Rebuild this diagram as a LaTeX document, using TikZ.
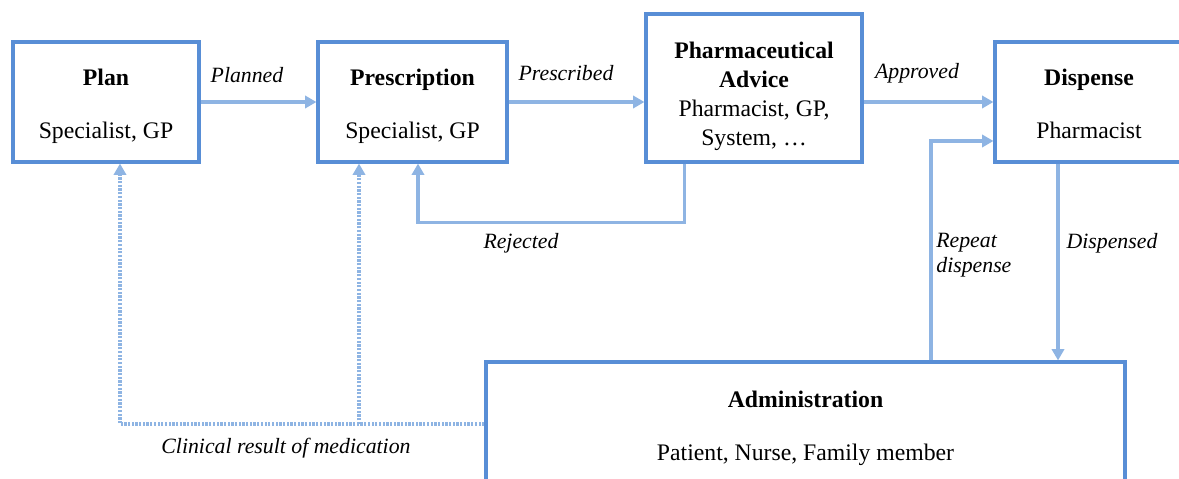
\documentclass[tikz,border=0pt]{standalone}
\usepackage{fontspec}
\setmainfont{Liberation Serif}
\usepackage{xcolor}
\usetikzlibrary{arrows.meta}
\definecolor{boxblue}{RGB}{88,142,214}
\definecolor{arrowblue}{RGB}{142,180,227}
\newcommand{\topstrut}{\rule{0pt}{15.4pt}}
\newcommand{\botstrut}{\rule[-4pt]{0pt}{4pt}}

\begin{document}
\begin{tikzpicture}[x=0.02cm,y=-0.02cm,
  box/.style={draw=boxblue,line width=1.8pt,rectangle,fill=white,inner sep=0pt,align=center,font=\fontsize{13.5}{16.5}\selectfont},
  flow/.style={draw=arrowblue,line width=1.9pt,-{Triangle[length=6.5pt,width=7pt]}},
  result/.style={flow,dash pattern=on 1.3pt off 0.8pt},
  lbl/.style={font=\fontsize{12.4}{14.5}\selectfont\itshape,inner sep=0pt}]
\clip (0,0) rectangle (1179,479);
\node[box,minimum width=3.72cm,minimum height=2.4cm] (plan) at (106,102) {\topstrut\textbf{Plan}\\[13.7pt]Specialist, GP\botstrut};
\node[box,minimum width=3.78cm,minimum height=2.4cm] (prescription) at (412.5,102) {\topstrut\textbf{Prescription}\\[13.7pt]Specialist, GP\botstrut};
\node[box,minimum width=4.32cm,minimum height=2.96cm] (pharma) at (754,88) {\rule{0pt}{19pt}\textbf{Pharmaceutical}\\\textbf{Advice}\\Pharmacist, GP,\\System, \dots};
\node[box,minimum width=3.76cm,minimum height=2.4cm] (dispense) at (1089,102) {\topstrut\textbf{Dispense}\\[13.7pt]Pharmacist\botstrut};
\node[box,minimum width=12.78cm,minimum height=2.48cm] (admin) at (805.5,424) {\topstrut\textbf{Administration}\\[13.7pt]Patient, Nurse, Family member\botstrut};
\draw[flow] (plan.east) -- (prescription.west);
\draw[flow] (prescription.east) -- (prescription.east -| pharma.west);
\draw[flow] (pharma.east |- dispense.west) -- (dispense.west);
\draw[flow] ([xshift=0.8cm]pharma.south west) -- ++(0,59) -| ([xshift=0.11cm]prescription.south);
\draw[flow] ([xshift=2.51cm]admin.north) |- ([yshift=-0.78cm]dispense.west);
\draw[flow] ([xshift=-0.62cm]dispense.south) -- ([xshift=-0.62cm]dispense.south |- admin.north);
\coordinate (branch) at ([xshift=-1.07cm]prescription.south |- admin.west);
\draw[result] (admin.west) -| ([xshift=0.28cm]plan.south);
\draw[result] (branch) -- ([xshift=-1.07cm]prescription.south);
\node[lbl] (planned) at (247,75) {Planned};
\node[lbl] (prescribed) at (566,73) {Prescribed};
\node[lbl] (approved) at (917,73) {Approved};
\node[lbl] (rejected) at (521,243) {Rejected};
\node[lbl,anchor=west,align=left] (repeat) at (936,255) {Repeat\\dispense};
\node[lbl] (dispensed) at (1112,243) {Dispensed};
\node[lbl] (clinical) at (286,448) {Clinical result of medication};
\end{tikzpicture}
\end{document}
